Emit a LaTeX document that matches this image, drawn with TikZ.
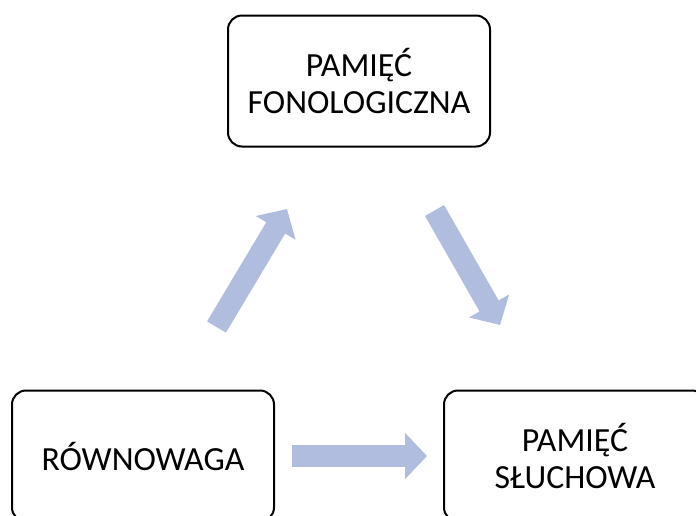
\documentclass[tikz,border=0pt]{standalone}
\usepackage{fontspec}
\setmainfont{Carlito}
\usetikzlibrary{arrows.meta}
\definecolor{flowblue}{RGB}{176,189,222}

\begin{document}
\begin{tikzpicture}[
            x=1pt,y=-1pt,
            box/.style={
                draw=black,line width=2pt,rounded corners=14pt,
                minimum width=262pt,minimum height=131pt,
                align=center,inner sep=0pt,
                font=\fontsize{33.8}{37}\selectfont
            },
            flow/.style={
                flowblue,line width=22pt,
                -{Triangle[length=22pt,width=45pt]}
            }
        ]
    % Frame
        \useasboundingbox (0,0) rectangle (696,515);
        \clip (0,0) rectangle (696,515);
    % Boxes
        \node[box] (fono) at (359,81) {PAMIĘĆ\\FONOLOGICZNA};
        \node[box] (rown) at (143,456) {RÓWNOWAGA};
        \node[box] (sluch) at (575,456) {PAMIĘĆ\\SŁUCHOWA};
    % Arrows
        \coordinate (up0) at (216.5,327);
        \coordinate (up1) at (287,209);
        \coordinate (dn0) at (434.5,210.5);
        \coordinate (dn1) at (500,325);
        \draw[flow] (up0) -- (up1);
        \draw[flow] (dn0) -- (dn1);
        \draw[flow,shorten <=17pt,shorten >=16pt] (rown.east) -- (sluch.west);
    \end{tikzpicture}
\end{document}
